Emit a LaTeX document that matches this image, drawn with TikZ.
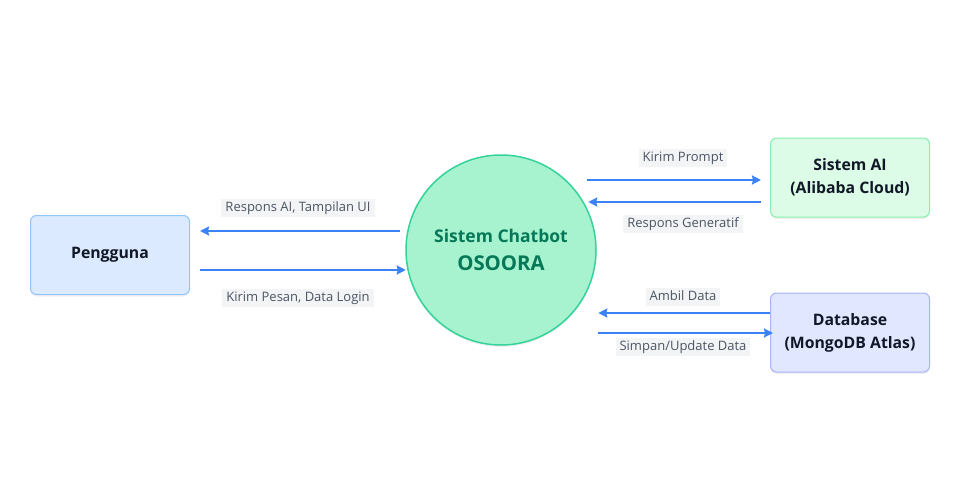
\documentclass[tikz,border=0pt]{standalone}
\usepackage{fontspec}
\setmainfont{Open Sans}
\usetikzlibrary{arrows.meta, shadows}
\definecolor{flowblue}{HTML}{3B82F6}
\definecolor{inkdark}{HTML}{111827}
\definecolor{chatgreen}{HTML}{047857}
\definecolor{labelfill}{HTML}{F3F4F6}
\definecolor{labelink}{HTML}{4B5563}
\begin{document}
\begin{tikzpicture}[x=1pt, y=-1pt, >={Stealth[length=9pt, width=9pt, inset=1pt]},
  entity/.style={draw, rectangle, rounded corners=6pt, line width=1pt,
    minimum width=159pt, minimum height=79pt, align=center, text=inkdark,
    font=\fontsize{15.8}{23}\selectfont\bfseries,
    drop shadow={opacity=0.12, shadow xshift=0pt, shadow yshift=-2pt}},
  flow/.style={->, draw=flowblue, line width=2pt},
  flowlabel/.style={fill=labelfill, text=labelink, inner xsep=4pt, inner ysep=3pt,
    text height=9.5pt, text depth=3pt, font=\fontsize{13}{15}\selectfont}]
\useasboundingbox (0,0) rectangle (960,492);
% the four parts of the system
\node[entity, fill={rgb,255:red,219;green,234;blue,254}, draw={rgb,255:red,147;green,197;blue,253}] (user) at (110,255) {Pengguna};
\node[draw={rgb,255:red,52;green,211;blue,153}, fill={rgb,255:red,167;green,243;blue,208}, circle, line width=1.5pt,
  minimum size=190pt, align=center, text=chatgreen, font=\fontsize{20.4}{28}\selectfont\bfseries,
  drop shadow={opacity=0.12, shadow xshift=0pt, shadow yshift=-2pt}] (chat) at (501,250)
  {{\fontsize{17.5}{21}\selectfont Sistem Chatbot}\\OSOORA};
\node[entity, fill={rgb,255:red,220;green,252;blue,231}, draw={rgb,255:red,134;green,239;blue,172}] (ai) at (850,177.5) {Sistem AI\\(Alibaba Cloud)};
\node[entity, fill={rgb,255:red,224;green,231;blue,255}, draw={rgb,255:red,165;green,180;blue,252}] (db) at (850,332.5) {Database\\(MongoDB Atlas)};
% data flows
\draw[flow] ([shift={(-5.5pt,19pt)}]chat.west) -- ([shift={(10pt,24pt)}]user.east);
\draw[flow] ([shift={(10pt,-15pt)}]user.east) -- ([shift={(0.5pt,-20pt)}]chat.west);
\draw[flow] ([shift={(-9.5pt,70pt)}]chat.east) -- ([shift={(-9pt,-2.5pt)}]ai.west);
\draw[flow] ([shift={(-9pt,-24.5pt)}]ai.west) -- ([shift={(-8.5pt,48pt)}]chat.east);
\draw[flow] ([shift={(0pt,19.5pt)}]db.west) -- ([shift={(1.5pt,-63pt)}]chat.east);
\draw[flow] ([shift={(1.5pt,-83pt)}]chat.east) -- ([shift={(3pt,-0.5pt)}]db.west);
% labels
\node[flowlabel] (lresp) at (298,208) {Respons AI, Tampilan UI};
\node[flowlabel] (lkirim) at (298,298) {Kirim Pesan, Data Login};
\node[flowlabel] (lprompt) at (683,158) {Kirim Prompt};
\node[flowlabel] (lgen) at (683,224) {Respons Generatif};
\node[flowlabel] (lambil) at (683,297) {Ambil Data};
\node[flowlabel] (lsimpan) at (683,347) {Simpan/Update Data};
\end{tikzpicture}
\end{document}
